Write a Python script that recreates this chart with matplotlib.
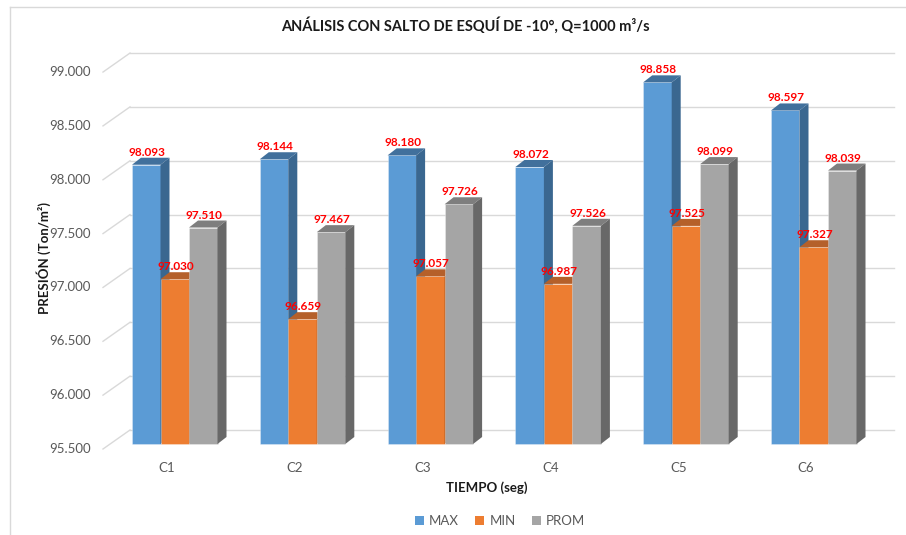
import matplotlib.pyplot as plt
from matplotlib.patches import Polygon, Patch
from matplotlib.lines import Line2D

plt.rcParams['font.family'] = ['Lato', 'DejaVu Sans']

categorias = ["C1", "C2", "C3", "C4", "C5", "C6"]
p_max = [98.093, 98.144, 98.180, 98.072, 98.858, 98.597]
p_min = [97.030, 96.659, 97.057, 96.987, 97.525, 97.327]
p_prom = [97.510, 97.467, 97.726, 97.526, 98.099, 98.039]
yticks = [95.5, 96.0, 96.5, 97.0, 97.5, 98.0, 98.5, 99.0]
base = 95.5

series = [("MAX", p_max, "#5B9BD5", "#41709C", "#3A6790"),
          ("MIN", p_min, "#ED7D31", "#B5602A", "#A9581F"),
          ("PROM", p_prom, "#A5A5A5", "#7E7E7E", "#686868")]

W, H = 906, 535
fig = plt.figure(figsize=(W / 100, H / 100), dpi=100)

# escala en pixeles del plano frontal
ppx, ppy = 127.8, 107.7       # pixeles por categoria / por unidad
cx0, by0 = 167, 449           # pixel de C1 y de 95.500 (desde arriba)
left, right, bot, top = 100, 900, 60, 490
ax = fig.add_axes([left / W, bot / H, (right - left) / W, (top - bot) / H])
ax.set_xlim((left - cx0) / ppx, (right - cx0) / ppx)
ax.set_ylim(base - ((H - bot) - by0) / ppy, base + (by0 - (H - top)) / ppy)
ax.axis("off")

# profundidad: pared del fondo, plano de barras y grosor de barra
wx, wy = 27 / ppx, 19 / ppy
ox, oy = 7 / ppx, 5 / ppy
dx, dy = 9 / ppx, 7 / ppy
x_front = (103 - cx0) / ppx
x_end = (894 - cx0) / ppx

grid_c = "#D9D9D9"
for t in yticks:
    ax.plot([x_front, x_front + wx], [t, t + wy], color=grid_c, lw=1, zorder=1)
    ax.plot([x_front + wx, x_end], [t + wy, t + wy], color=grid_c, lw=1, zorder=1)
    ax.text(x_front - 12 / ppx, t, f"{t:.3f}", ha="right", va="center",
            fontsize=9.5, color="#595959")

bw = 28.5 / ppx
g0 = (132 - cx0) / ppx - ox
for i, cat in enumerate(categorias):
    ax.text(i, base - 19 / ppy, cat, ha="center", va="center",
            fontsize=9.5, color="#595959")
    for k, (nombre, vals, c_front, c_top, c_side) in enumerate(series):
        x0 = i + g0 + ox + k * bw
        y0 = base + oy
        y1 = vals[i] + oy
        ax.bar(x0, y1 - y0, width=bw, bottom=y0, align="edge", color=c_front,
               edgecolor=(1, 1, 1, 0.35), linewidth=0.6, zorder=2)
        ax.add_patch(Polygon([(x0, y1), (x0 + bw, y1), (x0 + bw + dx, y1 + dy),
                              (x0 + dx, y1 + dy)], closed=True,
                             facecolor=c_top, edgecolor="none", zorder=2))
        ax.add_patch(Polygon([(x0 + bw, y0), (x0 + bw + dx, y0 + dy),
                              (x0 + bw + dx, y1 + dy), (x0 + bw, y1)], closed=True,
                             facecolor=c_side, edgecolor="none", zorder=2))
        ax.text(x0 + bw / 2 + 1 / ppx, y1 + dy, f"{vals[i]:.3f}",
                ha="center", va="bottom", fontsize=8.5, fontweight="bold",
                color="#FF0000", zorder=5)

fig.text(465 / W, 1 - 25 / H, "ANÁLISIS CON SALTO DE ESQUÍ DE -10°, Q=1000 m³/s",
         ha="center", va="center", fontsize=10.5, fontweight="bold", color="#1A1A1A")
fig.text(44 / W, 1 - 258 / H, "PRESIÓN (Ton/m²)", rotation=90, ha="center",
         va="center", fontsize=9.5, fontweight="bold", color="#1A1A1A")
fig.text(487 / W, 1 - 488 / H, "TIEMPO (seg)", ha="center", va="center",
         fontsize=9.5, fontweight="bold", color="#1A1A1A")

handles = [Patch(facecolor=s[2], edgecolor="none") for s in series]
fig.legend(handles, [s[0] for s in series], loc="center", ncol=3,
           bbox_to_anchor=(500 / W, 1 - 521 / H), frameon=False, fontsize=9.5,
           handlelength=0.7, handleheight=0.7, handletextpad=0.4, columnspacing=1.2,
           labelcolor="#595959")

# borde del grafico
fig.add_artist(Line2D([9.5 / W, 1], [1 - 7 / H, 1 - 7 / H], color="#D9D9D9", lw=1))
fig.add_artist(Line2D([9.5 / W, 9.5 / W], [0, 1 - 7 / H], color="#D9D9D9", lw=1))

fig.savefig("out.png", dpi=100)
